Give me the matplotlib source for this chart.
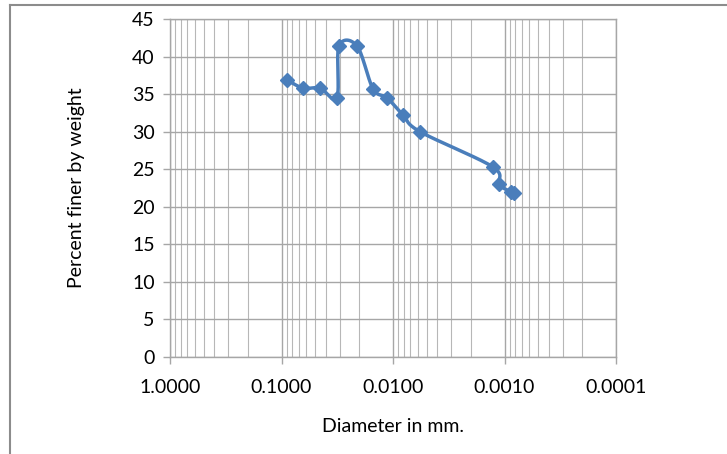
import numpy as np
import matplotlib
matplotlib.use('Agg')
import matplotlib.pyplot as plt
from matplotlib.ticker import FixedLocator, LogLocator, NullFormatter
from matplotlib.lines import Line2D

# grain size distribution
diameter_mm = [0.0893, 0.0641, 0.0452, 0.0318, 0.0305, 0.0210, 0.0151,
               0.0113, 0.00813, 0.00573, 0.00127, 0.00112, 0.00088, 0.00083]
percent_finer = [36.9, 35.8, 35.8, 34.5, 41.4, 41.4, 35.7,
                 34.5, 32.2, 30.0, 25.3, 23.0, 22.0, 21.8]
x_ticks = [1.0, 0.1, 0.01, 0.001, 0.0001]
x_ticklabels = ['1.0000', '0.1000', '0.0100', '0.0010', '0.0001']
y_ticks = list(range(0, 46, 5))

BLUE = '#4a7ebb'
GRID = '#b7b7b7'
FONT = 'Lato'


def smooth(xs, ys, n=20):
    """Excel-like smoothed line: cubic Bezier with Catmull-Rom control points"""
    px = np.log10(xs)
    py = np.array(ys, dtype=float)
    outx, outy = [], []
    for i in range(len(px) - 1):
        p0 = (px[max(i - 1, 0)], py[max(i - 1, 0)])
        p1 = (px[i], py[i])
        p2 = (px[i + 1], py[i + 1])
        p3 = (px[min(i + 2, len(px) - 1)], py[min(i + 2, len(px) - 1)])
        c1 = (p1[0] + (p2[0] - p0[0]) / 6, p1[1] + (p2[1] - p0[1]) / 6)
        c2 = (p2[0] - (p3[0] - p1[0]) / 6, p2[1] - (p3[1] - p1[1]) / 6)
        t = np.linspace(0, 1, n)
        for k, (a, b, c, d) in enumerate([(p1[0], c1[0], c2[0], p2[0]),
                                          (p1[1], c1[1], c2[1], p2[1])]):
            v = (1 - t) ** 3 * a + 3 * (1 - t) ** 2 * t * b + 3 * (1 - t) * t ** 2 * c + t ** 3 * d
            (outx if k == 0 else outy).extend(v)
    return 10 ** np.array(outx), np.array(outy)


fig = plt.figure(figsize=(7.27, 4.54), dpi=100)
ax = fig.add_axes([170 / 727, 97 / 454, 446 / 727, 338 / 454])

ax.set_xscale('log')
ax.set_xlim(1.0, 0.0001)
ax.set_ylim(0, 45)

ax.xaxis.set_major_locator(FixedLocator(x_ticks))
ax.set_xticklabels(x_ticklabels)
ax.xaxis.set_minor_locator(LogLocator(base=10, subs=np.arange(2, 10)))
ax.xaxis.set_minor_formatter(NullFormatter())
ax.set_yticks(y_ticks)

ax.grid(True, which='major', color='#a6a6a6', linewidth=1.0)
ax.grid(True, which='minor', axis='x', color=GRID, linewidth=0.8)
ax.set_axisbelow(True)

for s in ax.spines.values():
    s.set_color('#a6a6a6')
    s.set_linewidth(1.0)
ax.tick_params(axis='both', which='major', color='#a6a6a6', length=5, width=1,
               labelsize=14, labelcolor='#000000')
ax.tick_params(axis='x', which='minor', length=0)
ax.tick_params(axis='x', pad=11)
ax.tick_params(axis='y', pad=6)
for lab in ax.get_xticklabels() + ax.get_yticklabels():
    lab.set_family(FONT)

sx, sy = smooth(diameter_mm, percent_finer)
ax.plot(sx, sy, color=BLUE, linewidth=2.5, solid_capstyle='round', zorder=3)
ax.plot(diameter_mm, percent_finer, linestyle='none', marker='D', markersize=7.5,
        color=BLUE, markeredgecolor=BLUE, zorder=4)

ax.set_xlabel('Diameter in mm.', family=FONT, fontsize=14, labelpad=16)
ax.set_ylabel('Percent finer by weight', family=FONT, fontsize=14, labelpad=34)

# outer chart frame (top and left edges visible in the screenshot)
fig.add_artist(Line2D([10 / 727, 10 / 727], [0, 1 - 5 / 454], color='#8c8c8c', linewidth=1.5))
fig.add_artist(Line2D([10 / 727, 1], [1 - 5 / 454, 1 - 5 / 454], color='#8c8c8c', linewidth=1.5))

fig.savefig('out.png', dpi=100)
